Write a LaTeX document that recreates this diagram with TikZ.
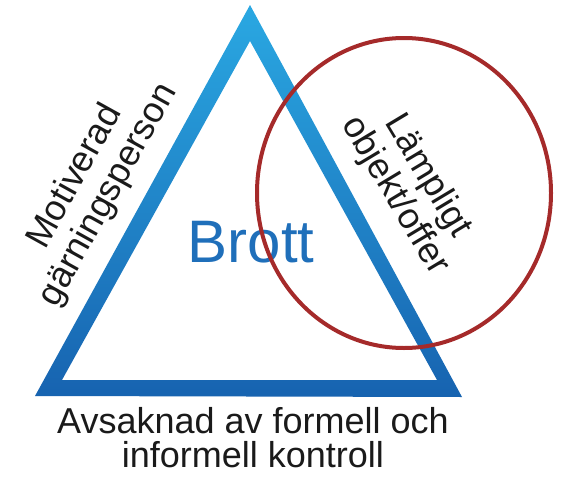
\documentclass[tikz,border=0pt]{standalone}
\usepackage{fontspec}
\setmainfont{Liberation Sans}
\definecolor{triTop}{HTML}{2AA8E2}
\definecolor{triBot}{HTML}{1763B0}
\definecolor{ringRed}{HTML}{A52A2A}
\definecolor{brottBlue}{HTML}{1F6FBA}
\definecolor{txtDark}{HTML}{1A1A1A}
\begin{document}
\begin{tikzpicture}[x=1pt,y=-1pt,
  label/.style={align=center, text=txtDark, inner sep=0pt, font=\fontsize{36}{38}\selectfont},
  ring/.style={draw=ringRed, line width=4pt}]
\useasboundingbox (0,0) rectangle (562,479);
% triangle band
\coordinate (oA) at (250,5);
\coordinate (oL) at (35,396);
\coordinate (oR) at (462,397);
\coordinate (iA) at (250,41);
\coordinate (iL) at (62,380);
\coordinate (iR) at (437,380);
\shade[even odd rule, top color=triTop, bottom color=triBot]
  (oA) -- (oL) -- (oR) -- cycle (iA) -- (iL) -- (iR) -- cycle;
% texts
\node[font=\fontsize{60}{60}\selectfont, text=brottBlue, inner sep=0pt, anchor=base] (brott) at (251,262) {Brott};
\node[label, rotate=61] (motiv) at (92,186) {Motiverad\\gärningsperson};
\node[label, rotate=-59] (lamp) at (411,186) {Lämpligt\\objekt/offer};
\node[label, font=\fontsize{36}{34}\selectfont] (avs) at (253,438) {Avsaknad av formell och\\informell kontroll};
% ring
\draw[ring] (404,193) ellipse [x radius=147, y radius=155];
\end{tikzpicture}
\end{document}
